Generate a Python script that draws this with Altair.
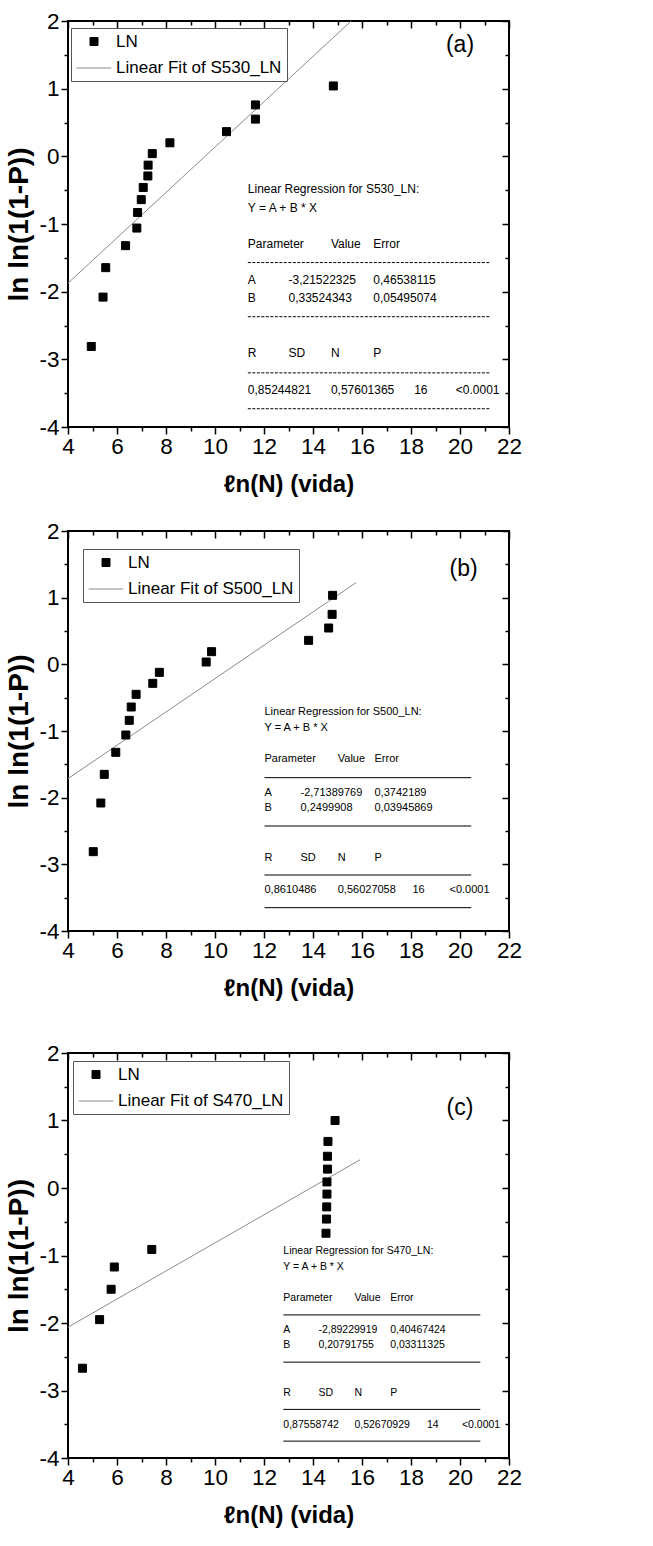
import altair as alt
import pandas as pd

FONT = "Liberation Sans"
YFONT = "Liberation Sans"

# ---------------- data ----------------
# panel (a)
a_x = [4.95, 5.43, 5.54, 6.35, 6.81, 6.84, 6.99, 7.07, 7.26, 7.27, 7.44, 8.16, 10.47, 11.65, 11.65, 14.83]
a_y = [-2.81, -2.08, -1.645, -1.32, -1.06, -0.83, -0.64, -0.46, -0.29, -0.13, 0.04, 0.20, 0.365, 0.55, 0.76, 1.04]
a_fit_x = [4.0, 15.56]
a_fit_y = [-1.874, 2.0]
a_fit_name = "Linear Fit of S530_LN"
a_reg_title = "Linear Regression for S530_LN:"
a_param_row = ["Parameter", "Value", "Error"]
a_row_A = ["A", "-3,21522325", "0,46538115"]
a_row_B = ["B", "0,33524343", "0,05495074"]
a_stat_hdr = ["R", "SD", "N", "P"]
a_stat_val = ["0,85244821", "0,57601365", "16", "<0.0001"]

# panel (b)
b_x = [5.03, 5.34, 5.48, 5.95, 6.36, 6.50, 6.58, 6.78, 7.46, 7.73, 9.64, 9.86, 13.82, 14.64, 14.78, 14.80]
b_y = [-2.81, -2.08, -1.65, -1.32, -1.06, -0.84, -0.64, -0.45, -0.285, -0.12, 0.035, 0.19, 0.36, 0.545, 0.75, 1.035]
b_fit_x = [4.0, 15.76]
b_fit_y = [-1.714, 1.226]
b_fit_name = "Linear Fit of S500_LN"
b_reg_title = "Linear Regression for S500_LN:"
b_param_row = ["Parameter", "Value", "Error"]
b_row_A = ["A", "-2,71389769", "0,3742189"]
b_row_B = ["B", "0,2499908", "0,03945869"]
b_stat_hdr = ["R", "SD", "N", "P"]
b_stat_val = ["0,8610486", "0,56027058", "16", "<0.0001"]

# panel (c)
c_x = [4.59, 5.29, 5.76, 5.89, 7.42, 14.53, 14.55, 14.56, 14.57, 14.57, 14.59, 14.59, 14.61, 14.90]
c_y = [-2.67, -1.95, -1.50, -1.17, -0.91, -0.67, -0.46, -0.28, -0.09, 0.09, 0.28, 0.47, 0.69, 1.00]
c_fit_x = [4.0, 15.92]
c_fit_y = [-2.061, 0.418]
c_fit_name = "Linear Fit of S470_LN"
c_reg_title = "Linear Regression for S470_LN:"
c_param_row = ["Parameter", "Value", "Error"]
c_row_A = ["A", "-2,89229919", "0,40467424"]
c_row_B = ["B", "0,20791755", "0,03311325"]
c_stat_hdr = ["R", "SD", "N", "P"]
c_stat_val = ["0,87558742", "0,52670929", "14", "<0.0001"]

eq_text = "Y = A + B * X"
x_major = [4, 6, 8, 10, 12, 14, 16, 18, 20, 22]
x_minor = [5, 7, 9, 11, 13, 15, 17, 19, 21]
y_major = [-4, -3, -2, -1, 0, 1, 2]
y_minor = [-3.5, -2.5, -1.5, -0.5, 0.5, 1.5]

# ---------------- layout (positions in data units) ----------------
layout = {
    "a": dict(cols=[11.34, 13.0, 14.73, 16.46, 18.13, 19.83], xend=21.26,
              rows=[-0.49, -0.76, -1.29, -1.83, -2.09, -2.91, -3.45],
              lines=[-1.57, -2.37, -3.20, -3.73], dash=[3, 1.5], fs=12,
              tag="(a)", tagxy=(20.0, 1.65), leg=(3, 7), w=441, h=406),
    "b": dict(cols=[12.02, 13.49, 15.01, 16.51, 18.06, 19.57], xend=20.46,
              rows=[-0.71, -0.95, -1.425, -1.925, -2.16, -2.91, -3.39],
              lines=[-1.70, -2.425, -3.16, -3.65], dash=None, fs=11,
              tag="(b)", tagxy=(20.15, 1.43), leg=(15, 18), w=441, h=400),
    "c": dict(cols=[12.79, 14.22, 15.69, 17.15, 18.65, 20.08], xend=20.83,
              rows=[-0.93, -1.17, -1.63, -2.10, -2.33, -3.04, -3.51],
              lines=[-1.88, -2.58, -3.28, -3.75], dash=None, fs=10.5,
              tag="(c)", tagxy=(20.0, 1.19), leg=(5, 8), w=441, h=405),
}

XS = alt.Scale(domain=[4, 22], nice=False, zero=False)
YS = alt.Scale(domain=[-4, 2], nice=False, zero=False)
HYPHEN = "replace(datum.label, '\u2212', '-')"


def panel(key, xs, ys, fx, fy, fname, rtitle, prow, rA, rB, shdr, sval):
    L = layout[key]
    cols = L["cols"]
    rows = L["rows"]
    pts = pd.DataFrame({"x": xs, "y": ys, "series": "LN"})
    fit = pd.DataFrame({"x": fx, "y": fy, "series": fname})
    dom = ["LN", fname]
    leg = alt.Legend(title=None, orient="none", legendX=L["leg"][0], legendY=L["leg"][1],
                     strokeColor="#555555", fillColor="white", padding=5, rowPadding=0,
                     labelFont=FONT, labelFontSize=17, labelColor="black", labelOffset=4,
                     labelLimit=400, symbolStrokeWidth=1)
    color = alt.Color("series:N", scale=alt.Scale(domain=dom, range=["black", "#8a8a8a"]), legend=leg)
    shape = alt.Shape("series:N", scale=alt.Scale(domain=dom, range=["square", "stroke"]), legend=leg)
    size = alt.Size("series:N", scale=alt.Scale(domain=dom, range=[64, 1200]), legend=leg)

    x_main = alt.Axis(values=x_major, orient="bottom", tickSize=7, tickWidth=1.5, tickColor="black",
                      labelFont=FONT, labelFontSize=22.5, labelColor="black", labelPadding=1,
                      labelFlush=False, labelOverlap=False, domain=False, grid=False,
                      title="ℓn(N) (vida)", titleFont=FONT, titleFontSize=24, titleFontWeight="bold",
                      titleColor="black", titlePadding=15)
    y_main = alt.Axis(values=y_major, orient="left", tickSize=7, tickWidth=1.5, tickColor="black",
                      labelFont=FONT, labelFontSize=22.5, labelColor="black", labelPadding=2,
                      labelExpr=HYPHEN,
                      labelFlush=False, labelOverlap=False, domain=False, grid=False,
                      title="ln ln(1(1-P))", titleFont=YFONT, titleFontSize=28, titleFontWeight="bold",
                      titleColor="black", titlePadding=5)

    points = alt.Chart(pts).mark_point(filled=False, fill="black", opacity=1, strokeWidth=1).encode(
        x=alt.X("x:Q", scale=XS, axis=x_main),
        y=alt.Y("y:Q", scale=YS, axis=y_main),
        color=color, shape=shape, size=size,
    )
    line = alt.Chart(fit).mark_line(strokeWidth=1).encode(
        x=alt.X("x:Q", scale=XS, axis=None),
        y=alt.Y("y:Q", scale=YS, axis=None),
        color=alt.Color("series:N", scale=alt.Scale(domain=dom, range=["black", "#8a8a8a"]), legend=leg),
    )

    def guide_layer(xo, yo, xv, yv, size_, off):
        return alt.Chart(pts).mark_point(opacity=0).encode(
            x=alt.X("x:Q", scale=XS, axis=alt.Axis(orient=xo, values=xv, tickSize=size_, tickWidth=1.5,
                                                   tickColor="black", labels=False, domain=False,
                                                   grid=False, title=None, offset=off)),
            y=alt.Y("y:Q", scale=YS, axis=alt.Axis(orient=yo, values=yv, tickSize=size_, tickWidth=1.5,
                                                   tickColor="black", labels=False, domain=False,
                                                   grid=False, title=None, offset=off)),
        )

    minor_out = guide_layer("bottom", "left", x_minor, y_minor, 4, 0)
    major_in = guide_layer("top", "right", x_major, y_major, 7, -7)
    minor_in = guide_layer("top", "right", x_minor, y_minor, 4, -4)

    # regression table text
    tx, ty, tt = [], [], []
    def add(x, y, t):
        tx.append(x); ty.append(y); tt.append(t)
    add(cols[0], rows[0], rtitle)
    add(cols[0], rows[1], eq_text)
    add(cols[0], rows[2], prow[0]); add(cols[2], rows[2], prow[1]); add(cols[3], rows[2], prow[2])
    add(cols[0], rows[3], rA[0]); add(cols[1], rows[3], rA[1]); add(cols[3], rows[3], rA[2])
    add(cols[0], rows[4], rB[0]); add(cols[1], rows[4], rB[1]); add(cols[3], rows[4], rB[2])
    add(cols[0], rows[5], shdr[0]); add(cols[1], rows[5], shdr[1]); add(cols[2], rows[5], shdr[2]); add(cols[3], rows[5], shdr[3])
    add(cols[0], rows[6], sval[0]); add(cols[2], rows[6], sval[1]); add(cols[4], rows[6], sval[2]); add(cols[5], rows[6], sval[3])
    tdf = pd.DataFrame({"x": tx, "y": ty, "t": tt})
    text = alt.Chart(tdf).mark_text(align="left", baseline="middle", font=FONT, fontSize=L["fs"],
                                    color="black").encode(
        x=alt.X("x:Q", scale=XS, axis=None), y=alt.Y("y:Q", scale=YS, axis=None), text="t:N")

    ldf = pd.DataFrame({"x": [cols[0]] * len(L["lines"]), "x2": [L["xend"]] * len(L["lines"]), "y": L["lines"]})
    rule_kw = dict(color="black", strokeWidth=1)
    if L["dash"]:
        rule_kw["strokeDash"] = L["dash"]
    rules = alt.Chart(ldf).mark_rule(**rule_kw).encode(
        x=alt.X("x:Q", scale=XS, axis=None), x2="x2:Q", y=alt.Y("y:Q", scale=YS, axis=None))

    tag = alt.Chart(pd.DataFrame({"x": [L["tagxy"][0]], "y": [L["tagxy"][1]], "t": [L["tag"]]})).mark_text(
        align="center", baseline="middle", font=FONT, fontSize=23, color="black").encode(
        x=alt.X("x:Q", scale=XS, axis=None), y=alt.Y("y:Q", scale=YS, axis=None), text="t:N")

    return alt.layer(line, points, text, rules, tag, minor_out, major_in, minor_in).resolve_axis(
        x="independent", y="independent").properties(width=L["w"], height=L["h"])


pa = panel("a", a_x, a_y, a_fit_x, a_fit_y, a_fit_name, a_reg_title, a_param_row, a_row_A, a_row_B, a_stat_hdr, a_stat_val)
pb = panel("b", b_x, b_y, b_fit_x, b_fit_y, b_fit_name, b_reg_title, b_param_row, b_row_A, b_row_B, b_stat_hdr, b_stat_val)
pc = panel("c", c_x, c_y, c_fit_x, c_fit_y, c_fit_name, c_reg_title, c_param_row, c_row_A, c_row_B, c_stat_hdr, c_stat_val)

indep = dict(color="independent", shape="independent", size="independent")
top = alt.vconcat(pa, pb, spacing=21).resolve_scale(**indep).resolve_legend(**indep)
chart = alt.vconcat(top, pc, spacing=39).resolve_scale(**indep).resolve_legend(**indep).properties(
    padding={"left": 4, "top": 9, "right": 5, "bottom": 5}
).configure_view(stroke="black", strokeWidth=2)

chart.save("out.html", embed_options={"renderer": "svg", "actions": False})
